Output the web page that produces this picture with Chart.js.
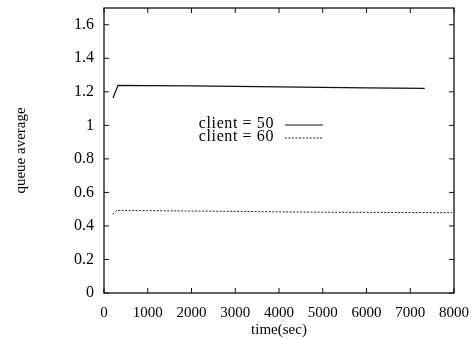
<!DOCTYPE html>
<html>
<head>
<meta charset="utf-8">
<script src="https://cdn.jsdelivr.net/npm/chart.js@4"></script>
<style>
  body { margin: 0; background: #fff; }
  #grafico { display: block; }
</style>
</head>
<body>
<canvas id="grafico" width="472" height="339"></canvas>
<script>
// datos
var tiempo_50 = [205, 320, 1000, 2000, 3000, 4000, 5000, 6000, 7330];
var cola_50 = [1.163, 1.238, 1.237, 1.235, 1.232, 1.229, 1.226, 1.223, 1.220];
var tiempo_60 = [200, 290, 1000, 2000, 3000, 4000, 5000, 6000, 7000, 7950];
var cola_60 = [0.469, 0.492, 0.491, 0.489, 0.487, 0.484, 0.482, 0.481, 0.480, 0.479];
var etiquetas = ['client = 50', 'client = 60'];
var ticks_x = [0, 1000, 2000, 3000, 4000, 5000, 6000, 7000, 8000];
var ticks_y = [0, 0.2, 0.4, 0.6, 0.8, 1, 1.2, 1.4, 1.6];

var fuente = 'Liberation Serif, Times New Roman, serif';

function puntos(xs, ys) {
    var out = [];
    for (var i = 0; i < xs.length; i++) out.push({ x: xs[i], y: ys[i] });
    return out;
}

// marco con marcas hacia dentro y leyenda con la muestra a la derecha
var marco = {
    id: 'marco',
    afterDatasetsDraw: function (chart) {
        var ctx = chart.ctx;
        var a = chart.chartArea;
        var sx = chart.scales.x, sy = chart.scales.y;
        var largo = 5;
        ctx.save();
        ctx.strokeStyle = '#111';
        ctx.lineWidth = 1.3;
        ctx.strokeRect(a.left, a.top, a.right - a.left, a.bottom - a.top);
        ctx.lineWidth = 1;
        ctx.beginPath();
        ticks_x.forEach(function (v) {
            var px = sx.getPixelForValue(v);
            ctx.moveTo(px, a.bottom); ctx.lineTo(px, a.bottom - largo);
            ctx.moveTo(px, a.top); ctx.lineTo(px, a.top + largo);
        });
        ticks_y.forEach(function (v) {
            var py = sy.getPixelForValue(v);
            ctx.moveTo(a.left, py); ctx.lineTo(a.left + largo, py);
            ctx.moveTo(a.right, py); ctx.lineTo(a.right - largo, py);
        });
        ctx.stroke();

        // leyenda
        ctx.font = '16px ' + fuente;
        ctx.letterSpacing = '0.6px';
        ctx.textAlign = 'right';
        ctx.textBaseline = 'middle';
        ctx.fillStyle = '#000';
        var xt = 274, y0 = 124, paso = 13;
        chart.data.datasets.forEach(function (ds, i) {
            var yy = y0 + i * paso;
            ctx.fillText(ds.label, xt, yy);
            ctx.beginPath();
            ctx.strokeStyle = ds.borderColor;
            ctx.lineWidth = ds.borderWidth;
            ctx.setLineDash(ds.borderDash || []);
            ctx.moveTo(xt + 11, yy + 1);
            ctx.lineTo(xt + 49, yy + 1);
            ctx.stroke();
            ctx.setLineDash([]);
        });
        ctx.restore();
    }
};

var ctx = document.getElementById('grafico').getContext('2d');
var myChart = new Chart(ctx, {
    type: 'line',
    data: {
        datasets: [{
            label: etiquetas[0],
            data: puntos(tiempo_50, cola_50),
            borderColor: '#111',
            borderWidth: 1.2,
            pointRadius: 0,
            tension: 0
        }, {
            label: etiquetas[1],
            data: puntos(tiempo_60, cola_60),
            borderColor: '#222',
            borderWidth: 1,
            borderDash: [2, 1.5],
            pointRadius: 0,
            tension: 0
        }]
    },
    options: {
        responsive: false,
        animation: false,
        layout: { padding: { left: 12, right: 18, top: 8, bottom: 0 } },
        plugins: {
            legend: { display: false },
            tooltip: { enabled: false }
        },
        scales: {
            x: {
                type: 'linear',
                min: 0,
                max: 8000,
                afterBuildTicks: function (s) { s.ticks = ticks_x.map(function (v) { return { value: v }; }); },
                afterFit: function (s) { s.height = 46; s.paddingLeft = 0; s.paddingRight = 0; },
                grid: { display: false, drawTicks: false },
                border: { display: false },
                ticks: {
                    color: '#000',
                    padding: 11,
                    maxRotation: 0,
                    autoSkip: false,
                    font: { family: fuente, size: 15 },
                    callback: function (v) { return String(v); }
                },
                title: {
                    display: true,
                    text: 'time(sec)',
                    color: '#000',
                    padding: { top: -3, bottom: 0 },
                    font: { family: fuente, size: 15 }
                }
            },
            y: {
                min: 0,
                max: 1.7,
                afterBuildTicks: function (s) { s.ticks = ticks_y.map(function (v) { return { value: v }; }); },
                afterFit: function (s) { s.width = 92; s.paddingTop = 0; s.paddingBottom = 0; },
                grid: { display: false, drawTicks: false },
                border: { display: false },
                ticks: {
                    color: '#000',
                    padding: 10,
                    autoSkip: false,
                    font: { family: fuente, size: 16 },
                    callback: function (v) { return String(Math.round(v * 10) / 10); }
                },
                title: {
                    display: true,
                    text: 'queue average',
                    color: '#000',
                    padding: { top: 0, bottom: 0 },
                    font: { family: fuente, size: 15 }
                }
            }
        }
    },
    plugins: [marco]
});
</script>
</body>
</html>
